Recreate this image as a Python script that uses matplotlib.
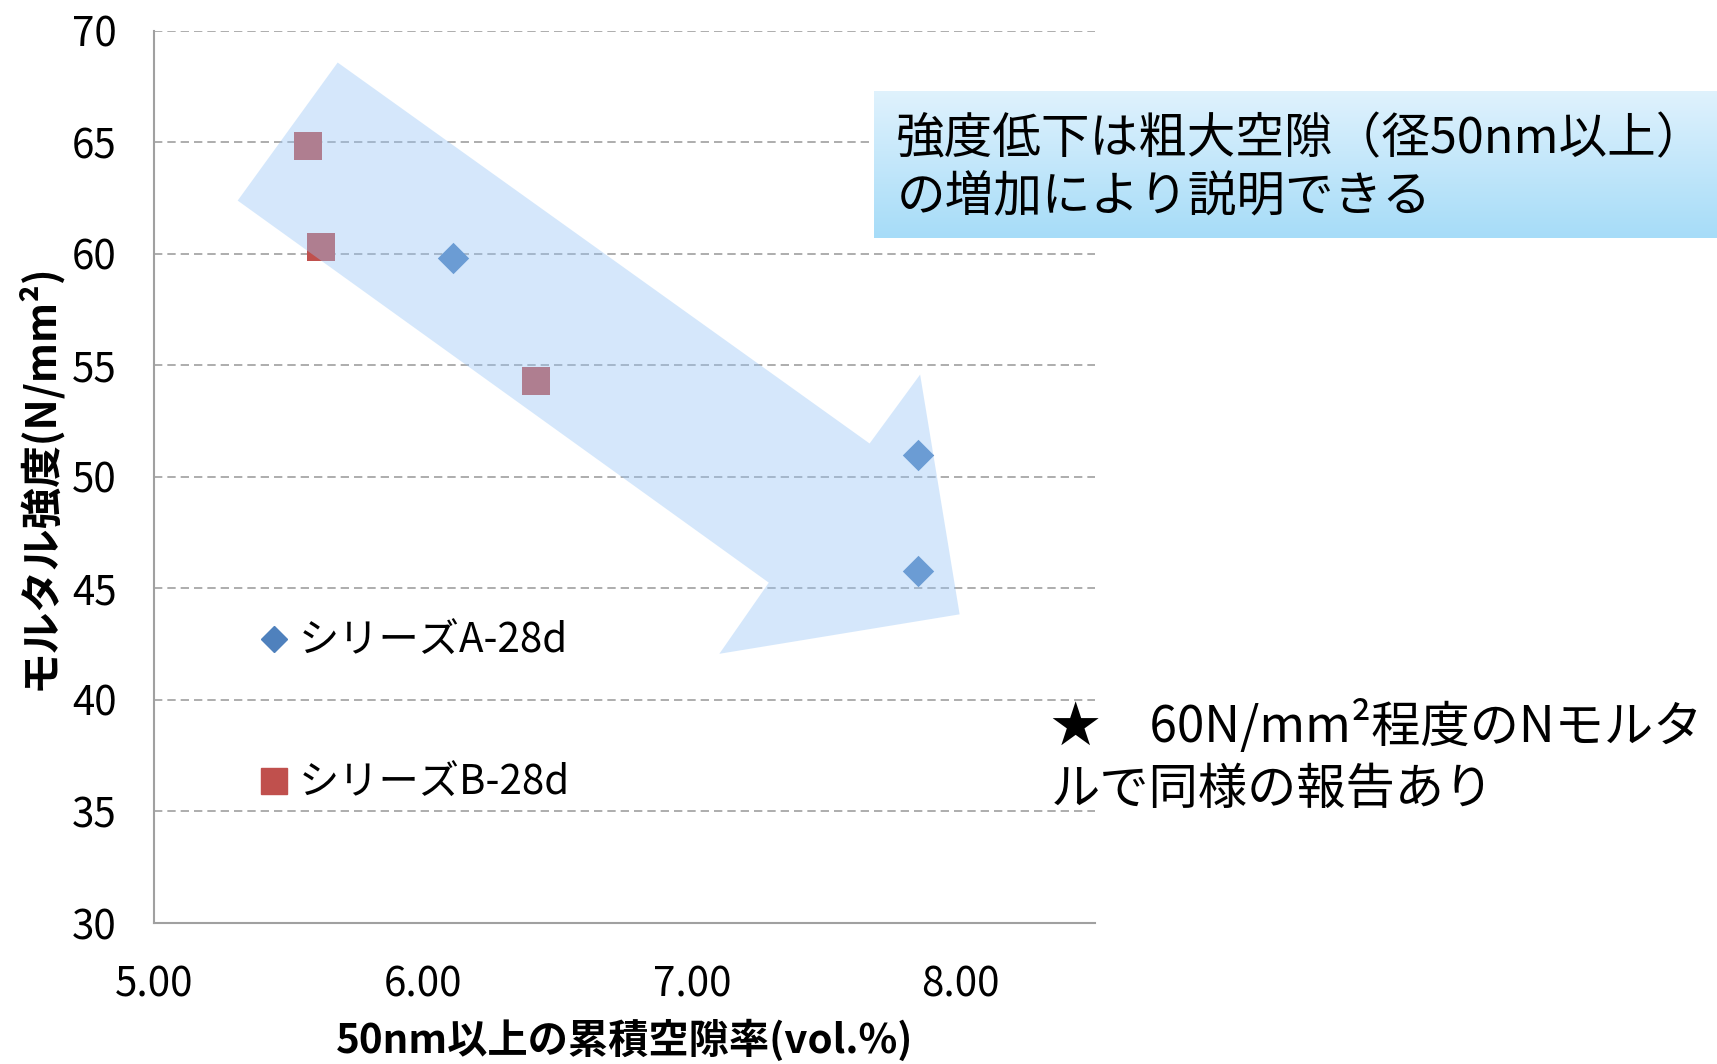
import matplotlib
matplotlib.use('Agg')
import matplotlib.pyplot as plt
import numpy as np
from matplotlib.patches import Polygon

plt.rcParams['font.family'] = ['Noto Sans CJK JP', 'DejaVu Sans']

# Mortar strength vs. cumulative pore volume (pores >= 50 nm)
series_names = ['シリーズA-28d', 'シリーズB-28d']
a_x = [6.11, 7.84, 7.84]
a_y = [59.8, 51.0, 45.8]
b_x = [5.57, 5.62, 6.42]
b_y = [64.85, 60.3, 54.3]

x_ticks = [5.0, 6.0, 7.0, 8.0]
y_ticks = [30, 35, 40, 45, 50, 55, 60, 65, 70]

# Big translucent "trend" arrow, in data units
arrow_x = [5.31, 5.682, 7.661, 7.849, 7.996, 7.102, 7.286]
arrow_y = [62.39, 68.58, 51.50, 54.59, 43.84, 42.07, 45.26]

BLUE = '#4F81BD'
RED = '#C0504D'
GRID = '#a0a0a0'

fig = plt.figure(figsize=(17.17, 10.64), dpi=100)
ax = fig.add_axes([0.0899, 0.1325, 0.5479, 0.8385])

ax.scatter(a_x, a_y, marker='D', s=16**2, color=BLUE, linewidths=0, zorder=3)
ax.scatter(b_x, b_y, marker='s', s=19.5**2, color=RED, linewidths=0, zorder=3)

arrow = Polygon(np.column_stack([arrow_x, arrow_y]), closed=True,
                facecolor=(150/255, 197/255, 247/255), alpha=0.4,
                edgecolor='none', zorder=4)
ax.add_patch(arrow)

ax.set_xlim(5.0, 8.5)
ax.set_ylim(30, 70)
ax.set_xticks(x_ticks)
ax.set_xticklabels([f'{v:.2f}' for v in x_ticks])
ax.set_yticks(y_ticks)
ax.tick_params(length=0, labelsize=29)
ax.tick_params(axis='y', pad=27)
ax.tick_params(axis='x', pad=30)
ax.yaxis.grid(True, color=GRID, linestyle=(0, (5, 3)), linewidth=1.2, zorder=0)
ax.set_axisbelow(True)
for side in ['top', 'right']:
    ax.spines[side].set_visible(False)
for side in ['left', 'bottom']:
    ax.spines[side].set_color(GRID)
    ax.spines[side].set_linewidth(1.5)

ax.set_xlabel('50nm以上の累積空隙率(vol.%)', fontsize=29, fontweight='bold', labelpad=10)
ax.set_ylabel('モルタル強度(N/mm²)', fontsize=30, fontweight='bold', labelpad=8)

# Legend handles at full colour, drawn on top of the arrow
ha = plt.Line2D([], [], marker='D', color=BLUE, linestyle='none', markersize=13)
hb = plt.Line2D([], [], marker='s', color=RED, linestyle='none', markersize=19)
leg = ax.legend([ha, hb], series_names, loc='center left',
                bbox_to_anchor=(0.111, 0.236), frameon=False, fontsize=29,
                handlelength=0.75, handletextpad=0.25, labelspacing=2.5,
                borderpad=0, borderaxespad=0)
leg.set_zorder(6)

# Callout box with a vertical gradient
box = fig.add_axes([0.509, 0.7763, 0.491, 0.1382])
top = np.array([224, 242, 253]) / 255
bot = np.array([166, 220, 248]) / 255
t = np.linspace(0, 1, 256)[:, None]
grad = (top * (1 - t) + bot * t)[:, None, :]
box.imshow(grad, aspect='auto', extent=[0, 1, 0, 1])
box.axis('off')
fig.text(0.522, 0.842, '強度低下は粗大空隙（径50nm以上）\nの増加により説明できる',
         fontsize=35, va='center', ha='left', linespacing=1.22)

fig.text(0.612, 0.288, '★　60N/mm²程度のNモルタ\nルで同様の報告あり',
         fontsize=35.5, va='center', ha='left', linespacing=1.25)

fig.savefig('out.png', dpi=100)
